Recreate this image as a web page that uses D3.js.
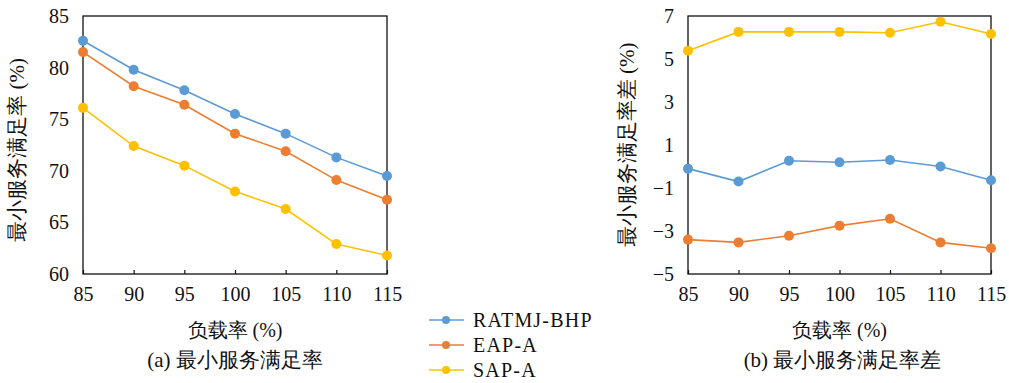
<!DOCTYPE html>
<html lang="zh">
<head>
<meta charset="UTF-8">
<title>最小服务满足率</title>
<style>
    body { margin: 0; background: #fff; }
    svg text { font-family: "Times New Roman", "Liberation Serif", "DejaVu Serif", serif; fill: #111; }
</style>
</head>
<body>
<svg id="chart" width="1009" height="383"></svg>
<script src="https://d3js.org/d3.v7.min.js"></script>
<script>
// load rate categories (%)
const loads = [85, 90, 95, 100, 105, 110, 115];
const seriesNames = ['RATMJ-BHP', 'EAP-A', 'SAP-A'];
const colors = ['#5B9BD5', '#ED7D31', '#FFC000'];

// (a) minimum service satisfaction rate
const rateRATMJ = [82.6, 79.8, 77.8, 75.5, 73.6, 71.3, 69.5];
const rateEAP = [81.5, 78.2, 76.4, 73.6, 71.9, 69.1, 67.2];
const rateSAP = [76.1, 72.4, 70.5, 68.0, 66.3, 62.9, 61.8];
const ticksA = [60, 65, 70, 75, 80, 85];

// (b) difference of minimum service satisfaction rate
const diffRATMJ = [-0.1, -0.7, 0.27, 0.2, 0.3, 0.0, -0.64];
const diffEAP = [-3.4, -3.53, -3.22, -2.75, -2.43, -3.53, -3.8];
const diffSAP = [5.38, 6.26, 6.26, 6.26, 6.22, 6.73, 6.16];
const ticksB = [-5, -3, -1, 1, 3, 5, 7];

const svg = d3.select('#chart');

function drawPanel(opt) {
    const x = d3.scalePoint().domain(loads).range([opt.left, opt.right]);
    const y = d3.scaleLinear().domain(opt.domain).range([opt.bottom, opt.top]);
    const g = svg.append('g');

    // frame
    g.append('rect')
        .attr('x', opt.left).attr('y', opt.top)
        .attr('width', opt.right - opt.left).attr('height', opt.bottom - opt.top)
        .attr('fill', 'none').attr('stroke', '#111').attr('stroke-width', 1.3);

    // x ticks (inside, at bottom)
    g.append('g')
        .attr('transform', `translate(0,${opt.bottom})`)
        .call(d3.axisBottom(x).tickSize(-4).tickPadding(13))
        .call(a => a.attr('font-family', null))
        .call(a => a.select('.domain').remove())
        .call(a => a.selectAll('line').attr('stroke', '#111').attr('stroke-width', 1.2))
        .call(a => a.selectAll('text').attr('font-size', 20).attr('fill', '#111'));

    // y tick labels
    g.append('g')
        .attr('transform', `translate(${opt.left},0)`)
        .call(d3.axisLeft(y).tickValues(opt.ticks).tickSize(0).tickPadding(14)
            .tickFormat(d => d < 0 ? '\u2212' + Math.abs(d) : d))
        .call(a => a.attr('font-family', null))
        .call(a => a.select('.domain').remove())
        .call(a => a.selectAll('text').attr('font-size', 20).attr('fill', '#111'));

    const line = d3.line().x((d, i) => x(loads[i])).y(d => y(d));
    opt.series.forEach((vals, s) => {
        g.append('path')
            .datum(vals)
            .attr('d', line)
            .attr('fill', 'none')
            .attr('stroke', colors[s])
            .attr('stroke-width', 1.6);
        g.append('g').selectAll('circle')
            .data(vals)
            .enter().append('circle')
            .attr('cx', (d, i) => x(loads[i]))
            .attr('cy', d => y(d))
            .attr('r', 5)
            .attr('fill', colors[s]);
    });

    // axis titles
    const cx = (opt.left + opt.right) / 2;
    g.append('text')
        .attr('x', cx).attr('y', 337)
        .attr('text-anchor', 'middle').attr('font-size', 20)
        .text('负载率 (%)');
    g.append('text')
        .attr('x', cx + opt.capShift).attr('y', 367)
        .attr('text-anchor', 'middle').attr('font-size', 21)
        .text(opt.caption);
    g.append('text')
        .attr('transform', `translate(${opt.titleX},${opt.titleY}) rotate(-90)`)
        .attr('text-anchor', 'middle').attr('font-size', 21)
        .text(opt.yTitle);
}

drawPanel({
    left: 83, right: 387, top: 16, bottom: 274,
    domain: [60, 85], ticks: ticksA,
    series: [rateRATMJ, rateEAP, rateSAP],
    yTitle: '最小服务满足率 (%)', caption: '(a) 最小服务满足率',
    titleX: 24, titleY: 150, capShift: 0
});

drawPanel({
    left: 688, right: 991, top: 16, bottom: 274,
    domain: [-5, 7], ticks: ticksB,
    series: [diffRATMJ, diffEAP, diffSAP],
    yTitle: '最小服务满足率差 (%)', caption: '(b) 最小服务满足率差',
    titleX: 634, titleY: 145, capShift: 3
});

// legend
const legend = svg.append('g');
const rowY = [320, 345, 370];
seriesNames.forEach((name, i) => {
    legend.append('line')
        .attr('x1', 429).attr('x2', 464)
        .attr('y1', rowY[i]).attr('y2', rowY[i])
        .attr('stroke', colors[i]).attr('stroke-width', 1.6);
    legend.append('circle')
        .attr('cx', 446).attr('cy', rowY[i]).attr('r', 4)
        .attr('fill', colors[i]);
    legend.append('text')
        .attr('x', 473).attr('y', rowY[i] + 7)
        .attr('font-size', 20)
        .attr('letter-spacing', 1.2)
        .text(name);
});
</script>
</body>
</html>
